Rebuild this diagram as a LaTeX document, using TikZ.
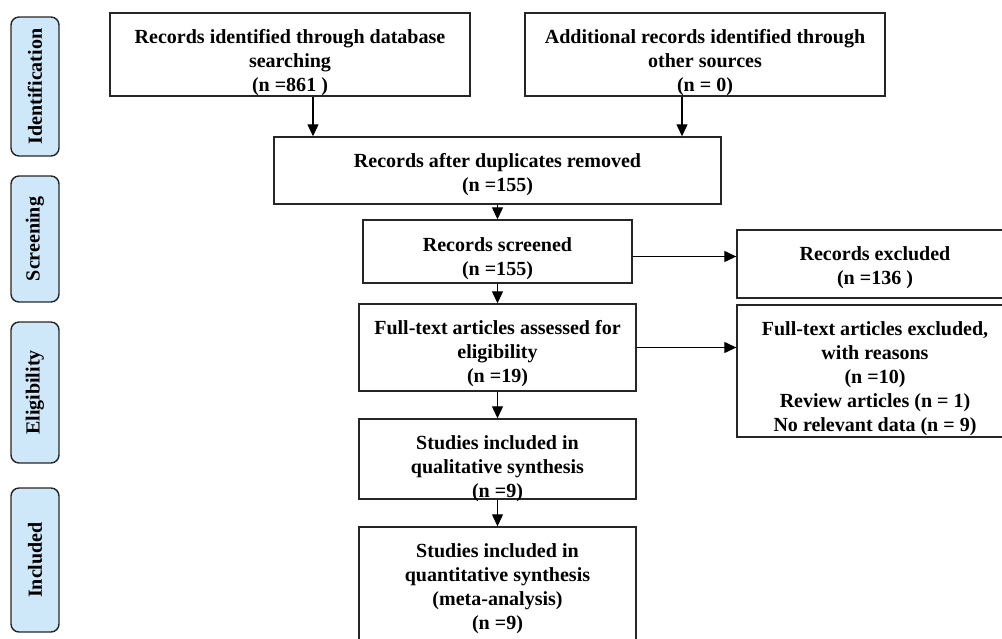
\documentclass[tikz,border=0pt]{standalone}
\usepackage{fontspec}
\setmainfont{Liberation Serif}
\usetikzlibrary{arrows.meta}
\definecolor{phaseblue}{RGB}{206,231,249}
% text of a box, lowered by #1 without changing the box size
\newcommand{\boxtext}[2]{\raisebox{-#1}[\height][\depth]{\begin{tabular}{@{}c@{}}#2\end{tabular}}}
\begin{document}
\begin{tikzpicture}[x=0.02cm,y=-0.02cm,
    font=\fontsize{11.4}{13.6}\selectfont\bfseries,
    flowbox/.style={draw=black!85,line width=0.8pt,inner sep=2pt},
    phase/.style={draw=black!85,line width=0.8pt,fill=phaseblue,rounded corners=1.6mm,
        rotate=90,minimum height=0.96cm,inner sep=2pt},
    flowarrow/.style={draw=black,line width=0.7pt,-{Triangle[length=2.4mm,width=2.2mm]}}]
    \useasboundingbox (0,0) rectangle (1002,639);
    \clip (0,0) rectangle (1002,639);

    %Phase labels
    \node[phase,minimum width=2.78cm] (ident) at (35,86.5) {Identification};
    \node[phase,minimum width=2.52cm] (screen) at (35,239) {Screening};
    \node[phase,minimum width=2.82cm] (elig) at (35,392.5) {Eligibility};
    \node[phase,minimum width=2.88cm] (incl) at (35,560) {Included};

    %Identification boxes
    \node[flowbox,minimum width=7.2cm,minimum height=1.66cm] (dbrec) at (290,54.5)
        {\boxtext{4.5pt}{Records identified through database\\searching\\(n =861 )}};
    \node[flowbox,minimum width=7.2cm,minimum height=1.66cm] (otherrec) at (705,54.5)
        {\boxtext{4.5pt}{Additional records identified through\\other sources\\(n = 0)}};

    %Screening boxes
    \node[flowbox,minimum width=8.94cm,minimum height=1.34cm] (dedup) at (497.5,170.5)
        {\boxtext{2.3pt}{Records after duplicates removed\\(n =155)}};
    \node[flowbox,minimum width=5.38cm,minimum height=1.26cm] (screened) at (497.5,251.5)
        {\boxtext{4pt}{Records screened\\(n =155)}};
    \node[flowbox,minimum width=5.52cm,minimum height=1.36cm] (excl) at (875,264)
        {\boxtext{2.3pt}{Records excluded\\(n =136 )}};

    %Eligibility boxes
    \node[flowbox,minimum width=5.54cm,minimum height=1.74cm] (fulltext) at (497.5,347.5)
        {\boxtext{3.4pt}{Full-text articles assessed for\\eligibility\\(n =19)}};
    \node[flowbox,minimum width=5.52cm,minimum height=2.64cm] (ftexcl) at (875,371)
        {\boxtext{4.5pt}{Full-text articles excluded,\\with reasons\\(n =10)\\Review articles (n = 1)\\No relevant data (n = 9)}};

    %Included boxes
    \node[flowbox,minimum width=5.54cm,minimum height=1.6cm] (qual) at (497.5,459)
        {\boxtext{5.7pt}{Studies included in\\qualitative synthesis\\(n =9)}};
    \node[flowbox,minimum width=5.54cm,minimum height=2.4cm] (quant) at (497.5,587)
        {\boxtext{1pt}{Studies included in\\quantitative synthesis\\(meta-analysis)\\(n =9)}};

    %Arrows
    \draw[flowarrow] ([xshift=0.46cm]dbrec.south) -- ([xshift=0.46cm]dbrec.south |- dedup.north);
    \draw[flowarrow] ([xshift=-0.46cm]otherrec.south) -- ([xshift=-0.46cm]otherrec.south |- dedup.north);
    \draw[flowarrow] (dedup.south) -- (screened.north);
    \draw[flowarrow] ([yshift=-0.1cm]screened.east) -- ([yshift=-0.1cm]screened.east -| excl.west);
    \draw[flowarrow] (screened.south) -- (fulltext.north);
    \draw[flowarrow] (fulltext.east) -- (fulltext.east -| ftexcl.west);
    \draw[flowarrow] (fulltext.south) -- (qual.north);
    \draw[flowarrow] (qual.south) -- (quant.north);
\end{tikzpicture}
\end{document}
